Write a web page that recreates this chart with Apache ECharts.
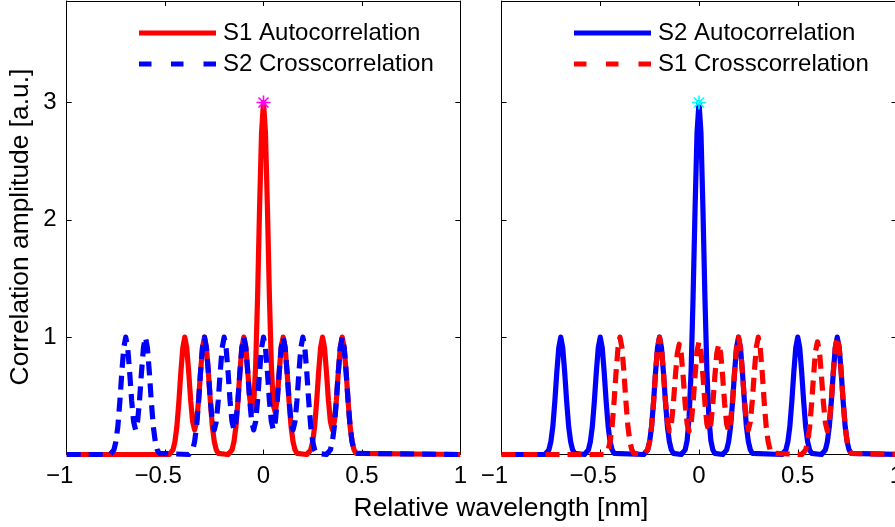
<!DOCTYPE html>
<html>
<head>
<meta charset="utf-8">
<script src="https://cdn.jsdelivr.net/npm/echarts@6/dist/echarts.min.js"></script>
<style>
  html, body { margin: 0; padding: 0; background: #fff; }
  #chart { width: 895px; height: 527px; }
</style>
</head>
<body>
<div id="chart"></div>
<script>
// ---------- data ----------
const xTicks = [-1, -0.5, 0, 0.5, 1];
const yTickLabels = [1, 2, 3];
const yTicks = [0, 1, 2, 3];

const leftLegend = ['S1 Autocorrelation', 'S2 Crosscorrelation'];
const rightLegend = ['S2 Autocorrelation', 'S1 Crosscorrelation'];

// Left panel: S1 autocorrelation (red solid)
const s1AutoLeft = [
  [-1,0],[-0.48,0],[-0.47,0.01],[-0.46,0.04],[-0.45,0.11],[-0.44,0.24],[-0.43,0.45],[-0.42,0.70],[-0.41,0.91],
  [-0.40,1.00],[-0.39,0.91],[-0.38,0.70],[-0.37,0.46],[-0.36,0.28],[-0.35,0.21],[-0.34,0.28],[-0.33,0.46],
  [-0.32,0.70],[-0.31,0.91],[-0.30,1.00],[-0.29,0.91],[-0.28,0.70],[-0.27,0.45],[-0.26,0.24],[-0.25,0.11],
  [-0.24,0.04],[-0.23,0.01],[-0.22,0],[-0.18,0],[-0.17,0.01],[-0.16,0.04],[-0.15,0.11],[-0.14,0.24],
  [-0.13,0.45],[-0.12,0.70],[-0.11,0.91],[-0.10,1.00],[-0.09,0.92],[-0.08,0.71],[-0.07,0.48],[-0.06,0.36],
  [-0.05,0.42],[-0.04,0.75],[-0.03,1.35],[-0.02,2.10],[-0.01,2.74],[0,3.00],
  [0.01,2.74],[0.02,2.10],[0.03,1.35],[0.04,0.75],[0.05,0.42],[0.06,0.36],[0.07,0.48],[0.08,0.71],
  [0.09,0.92],[0.10,1.00],[0.11,0.91],[0.12,0.70],[0.13,0.45],[0.14,0.24],[0.15,0.11],[0.16,0.04],
  [0.17,0.01],[0.18,0],[0.22,0],[0.23,0.01],[0.24,0.04],[0.25,0.11],[0.26,0.24],[0.27,0.45],[0.28,0.70],
  [0.29,0.91],[0.30,1.00],[0.31,0.91],[0.32,0.70],[0.33,0.46],[0.34,0.28],[0.35,0.21],[0.36,0.28],
  [0.37,0.46],[0.38,0.70],[0.39,0.91],[0.40,1.00],[0.41,0.91],[0.42,0.70],[0.43,0.45],[0.44,0.24],
  [0.45,0.11],[0.46,0.04],[0.47,0.01],[0.48,0],[1,0]
];

// Left panel: S2 crosscorrelation (blue dashed)
const s2CrossLeft = [
  [-1,0],[-0.78,0],[-0.77,0.01],[-0.76,0.04],[-0.75,0.11],[-0.74,0.24],[-0.73,0.45],[-0.72,0.70],[-0.71,0.91],
  [-0.70,1.00],[-0.69,0.91],[-0.68,0.70],[-0.67,0.46],[-0.66,0.28],[-0.65,0.21],[-0.64,0.28],[-0.63,0.46],
  [-0.62,0.70],[-0.61,0.91],[-0.60,1.00],[-0.59,0.91],[-0.58,0.70],[-0.57,0.45],[-0.56,0.24],[-0.55,0.11],
  [-0.54,0.04],[-0.53,0.01],[-0.52,0],[-0.38,0],[-0.37,0.01],[-0.36,0.04],[-0.35,0.11],[-0.34,0.24],
  [-0.33,0.45],[-0.32,0.70],[-0.31,0.91],[-0.30,1.00],[-0.29,0.91],[-0.28,0.70],[-0.27,0.46],[-0.26,0.28],
  [-0.25,0.21],[-0.24,0.28],[-0.23,0.46],[-0.22,0.70],[-0.21,0.91],[-0.20,1.00],[-0.19,0.91],[-0.18,0.70],
  [-0.17,0.46],[-0.16,0.28],[-0.15,0.21],[-0.14,0.28],[-0.13,0.46],[-0.12,0.70],[-0.11,0.91],[-0.10,1.00],
  [-0.09,0.91],[-0.08,0.70],[-0.07,0.46],[-0.06,0.28],[-0.05,0.21],[-0.04,0.28],[-0.03,0.46],[-0.02,0.70],
  [-0.01,0.91],[0,1.00],[0.01,0.91],[0.02,0.70],[0.03,0.46],[0.04,0.28],[0.05,0.21],[0.06,0.28],[0.07,0.46],
  [0.08,0.70],[0.09,0.91],[0.10,1.00],[0.11,0.91],[0.12,0.70],[0.13,0.46],[0.14,0.28],[0.15,0.21],
  [0.16,0.28],[0.17,0.46],[0.18,0.70],[0.19,0.91],[0.20,1.00],[0.21,0.91],[0.22,0.70],[0.23,0.45],
  [0.24,0.24],[0.25,0.11],[0.26,0.04],[0.27,0.01],[0.28,0],[0.32,0],[0.33,0.01],[0.34,0.04],[0.35,0.11],
  [0.36,0.24],[0.37,0.45],[0.38,0.70],[0.39,0.91],[0.40,1.00],[0.41,0.91],[0.42,0.70],[0.43,0.45],
  [0.44,0.24],[0.45,0.11],[0.46,0.04],[0.47,0.01],[0.48,0],[1,0]
];

// Right panel: S2 autocorrelation (blue solid)
const s2AutoRight = [
  [-1,0],[-0.78,0],[-0.77,0.01],[-0.76,0.04],[-0.75,0.11],[-0.74,0.24],[-0.73,0.45],[-0.72,0.70],[-0.71,0.91],
  [-0.70,1.00],[-0.69,0.91],[-0.68,0.70],[-0.67,0.45],[-0.66,0.24],[-0.65,0.11],[-0.64,0.04],[-0.63,0.01],
  [-0.62,0],[-0.58,0],[-0.57,0.01],[-0.56,0.04],[-0.55,0.11],[-0.54,0.24],[-0.53,0.45],[-0.52,0.70],
  [-0.51,0.91],[-0.50,1.00],[-0.49,0.91],[-0.48,0.70],[-0.47,0.45],[-0.46,0.24],[-0.45,0.11],[-0.44,0.04],
  [-0.43,0.01],[-0.42,0],[-0.28,0],[-0.27,0.01],[-0.26,0.04],[-0.25,0.11],[-0.24,0.24],[-0.23,0.45],
  [-0.22,0.70],[-0.21,0.91],[-0.20,1.00],[-0.19,0.91],[-0.18,0.70],[-0.17,0.45],[-0.16,0.24],[-0.15,0.11],
  [-0.14,0.04],[-0.13,0.01],[-0.12,0],[-0.09,0],[-0.08,0.01],[-0.07,0.04],[-0.06,0.12],[-0.05,0.32],
  [-0.04,0.71],[-0.03,1.34],[-0.02,2.09],[-0.01,2.74],[0,3.00],
  [0.01,2.74],[0.02,2.09],[0.03,1.34],[0.04,0.71],[0.05,0.32],[0.06,0.12],[0.07,0.04],[0.08,0.01],
  [0.09,0],[0.12,0],[0.13,0.01],[0.14,0.04],[0.15,0.11],[0.16,0.24],[0.17,0.45],[0.18,0.70],[0.19,0.91],
  [0.20,1.00],[0.21,0.91],[0.22,0.70],[0.23,0.45],[0.24,0.24],[0.25,0.11],[0.26,0.04],[0.27,0.01],
  [0.28,0],[0.42,0],[0.43,0.01],[0.44,0.04],[0.45,0.11],[0.46,0.24],[0.47,0.45],[0.48,0.70],[0.49,0.91],
  [0.50,1.00],[0.51,0.91],[0.52,0.70],[0.53,0.45],[0.54,0.24],[0.55,0.11],[0.56,0.04],[0.57,0.01],
  [0.58,0],[0.62,0],[0.63,0.01],[0.64,0.04],[0.65,0.11],[0.66,0.24],[0.67,0.45],[0.68,0.70],[0.69,0.91],
  [0.70,1.00],[0.71,0.91],[0.72,0.70],[0.73,0.45],[0.74,0.24],[0.75,0.11],[0.76,0.04],[0.77,0.01],
  [0.78,0],[1,0]
];

// Right panel: S1 crosscorrelation (red dashed)
const s1CrossRight = [
  [-1,0],[-0.48,0],[-0.47,0.01],[-0.46,0.04],[-0.45,0.11],[-0.44,0.24],[-0.43,0.45],[-0.42,0.70],[-0.41,0.91],
  [-0.40,1.00],[-0.39,0.91],[-0.38,0.70],[-0.37,0.45],[-0.36,0.24],[-0.35,0.11],[-0.34,0.04],[-0.33,0.01],
  [-0.32,0],[-0.28,0],[-0.27,0.01],[-0.26,0.04],[-0.25,0.11],[-0.24,0.24],[-0.23,0.45],[-0.22,0.70],
  [-0.21,0.91],[-0.20,1.00],[-0.19,0.91],[-0.18,0.70],[-0.17,0.46],[-0.16,0.28],[-0.15,0.20],[-0.14,0.26],
  [-0.13,0.43],[-0.12,0.66],[-0.11,0.86],[-0.10,0.94],[-0.09,0.86],[-0.08,0.66],[-0.07,0.43],[-0.06,0.26],
  [-0.05,0.20],[-0.04,0.26],[-0.03,0.44],[-0.02,0.67],[-0.01,0.88],[0,0.96],[0.01,0.88],[0.02,0.67],
  [0.03,0.44],[0.04,0.26],[0.05,0.20],[0.06,0.26],[0.07,0.43],[0.08,0.66],[0.09,0.86],[0.10,0.94],
  [0.11,0.86],[0.12,0.66],[0.13,0.43],[0.14,0.26],[0.15,0.20],[0.16,0.28],[0.17,0.46],[0.18,0.70],
  [0.19,0.91],[0.20,1.00],[0.21,0.91],[0.22,0.70],[0.23,0.46],[0.24,0.28],[0.25,0.21],[0.26,0.28],
  [0.27,0.46],[0.28,0.70],[0.29,0.91],[0.30,1.00],[0.31,0.91],[0.32,0.70],[0.33,0.45],[0.34,0.24],
  [0.35,0.11],[0.36,0.04],[0.37,0.01],[0.38,0],[0.52,0],[0.53,0.01],[0.54,0.04],[0.55,0.10],[0.56,0.23],
  [0.57,0.43],[0.58,0.67],[0.59,0.88],[0.60,0.96],[0.61,0.88],[0.62,0.67],[0.63,0.44],[0.64,0.27],
  [0.65,0.20],[0.66,0.28],[0.67,0.46],[0.68,0.70],[0.69,0.91],[0.70,1.00],[0.71,0.91],[0.72,0.70],
  [0.73,0.45],[0.74,0.24],[0.75,0.11],[0.76,0.04],[0.77,0.01],[0.78,0],[1,0]
];

const peakLeft = [[0, 3]];
const peakRight = [[0, 3]];

// ---------- styling ----------
const FONT = "'Liberation Sans', Arial, Helvetica, sans-serif";
const RED = '#ff0000', BLUE = '#0000ff';
const LW = 5.2;
const DASH = [14, 8];
const ASTERISK = 'path://M7,0L7,14M0,7L14,7M2,2L12,12M2,12L12,2';
// legend key glyphs: solid bar and three-dash bar (77 x 5 px)
const ICON_SOLID = 'path://M0,0H77V5H0Z';
const ICON_DASHED = 'path://M0,0H12.5V5H0Z M32,0H44.5V5H32Z M64.5,0H77V5H64.5Z';

function fmtX(v) {
  const a = Math.abs(v);
  const s = a === 0 ? '0' : String(a);
  return v < 0 ? '{n|\u2212' + s + '}{s|\u00a0}' : '{n|' + s + '}';
}

const axisLineStyle = { color: '#000', width: 1 };
function xAxis(grid, pos, labels) {
  return {
    type: 'value', gridIndex: grid, position: pos, min: -1, max: 1, interval: 0.5,
    axisLine: { show: true, onZero: false, lineStyle: axisLineStyle },
    axisTick: { show: true, inside: true, length: 5, lineStyle: axisLineStyle, customValues: xTicks },
    axisLabel: labels ? {
      show: true, margin: 9, formatter: fmtX, customValues: xTicks,
      rich: {
        n: { fontSize: 24, fontFamily: FONT, color: '#000', lineHeight: 26 },
        s: { width: 14, fontSize: 24, fontFamily: FONT, lineHeight: 26 }
      }
    } : { show: false },
    splitLine: { show: false }
  };
}
function yAxis(grid, pos, labels) {
  return {
    type: 'value', gridIndex: grid, position: pos, min: 0, max: 3.865,
    axisLine: { show: true, onZero: false, lineStyle: axisLineStyle },
    axisTick: { show: true, inside: true, length: 5, lineStyle: axisLineStyle, customValues: yTicks },
    axisLabel: labels ? {
      show: true, margin: 10, customValues: yTickLabels,
      fontSize: 24, fontFamily: FONT, color: '#000'
    } : { show: false },
    splitLine: { show: false }
  };
}
function lineSeries(name, data, xi, yi, color, dashed, z) {
  return {
    type: 'line', name, data, xAxisIndex: xi, yAxisIndex: yi,
    symbol: 'none', showSymbol: false, clip: false, z,
    lineStyle: { color, width: LW, type: dashed ? DASH : 'solid', cap: 'butt', join: 'round' },
    itemStyle: { color },
    emphasis: { disabled: true }, silent: true, animation: false
  };
}
function markerSeries(data, xi, yi, color) {
  return {
    type: 'scatter', data, xAxisIndex: xi, yAxisIndex: yi, symbol: ASTERISK, symbolSize: 14,
    itemStyle: { color: 'none', borderColor: color, borderWidth: 1.6, opacity: 1 },
    z: 10, clip: false, silent: true, emphasis: { disabled: true }, animation: false
  };
}
function legend(left, top, name, icon, color) {
  return {
    orient: 'vertical', left, top, padding: 0, itemWidth: 77, itemHeight: 24,
    selectedMode: false, icon, symbolKeepAspect: true,
    itemStyle: { color, borderWidth: 0 },
    data: [name],
    textStyle: { fontSize: 24, fontFamily: FONT, color: '#000', lineHeight: 24, padding: [0, 0, 0, 2] }
  };
}

const chart = echarts.init(document.getElementById('chart'), null, { renderer: 'canvas' });
chart.setOption({
  animation: false,
  backgroundColor: '#fff',
  grid: [
    { left: 66.7, top: 1, width: 393.6, height: 453.5, outerBoundsMode: 'none', containLabel: false },
    { left: 501.5, top: 1, width: 395, height: 453.5, outerBoundsMode: 'none', containLabel: false }
  ],
  xAxis: [xAxis(0, 'bottom', true), xAxis(0, 'top', false), xAxis(1, 'bottom', true), xAxis(1, 'top', false)],
  yAxis: [yAxis(0, 'left', true), yAxis(0, 'right', false), yAxis(1, 'left', false), yAxis(1, 'right', false)],
  legend: [
    legend(139, 21, leftLegend[0], ICON_SOLID, RED),
    legend(139, 52, leftLegend[1], ICON_DASHED, BLUE),
    legend(574, 21, rightLegend[0], ICON_SOLID, BLUE),
    legend(574, 52, rightLegend[1], ICON_DASHED, RED)
  ],
  series: [
    lineSeries(leftLegend[0], s1AutoLeft, 0, 0, RED, false, 2),
    lineSeries(leftLegend[1], s2CrossLeft, 0, 0, BLUE, true, 3),
    markerSeries(peakLeft, 0, 0, '#ff00ff'),
    lineSeries(rightLegend[0], s2AutoRight, 2, 2, BLUE, false, 2),
    lineSeries(rightLegend[1], s1CrossRight, 2, 2, RED, true, 3),
    markerSeries(peakRight, 2, 2, '#00ffff')
  ],
  graphic: [
    { type: 'text', x: 501, y: 509, silent: true,
      style: { text: 'Relative wavelength [nm]', font: '26.4px ' + FONT, fill: '#000', align: 'center', verticalAlign: 'middle' } },
    { type: 'text', x: 21, y: 227, rotation: Math.PI / 2, silent: true,
      style: { text: 'Correlation amplitude [a.u.]', font: '26.4px ' + FONT, fill: '#000', align: 'center', verticalAlign: 'middle' } }
  ]
});
</script>
</body>
</html>
